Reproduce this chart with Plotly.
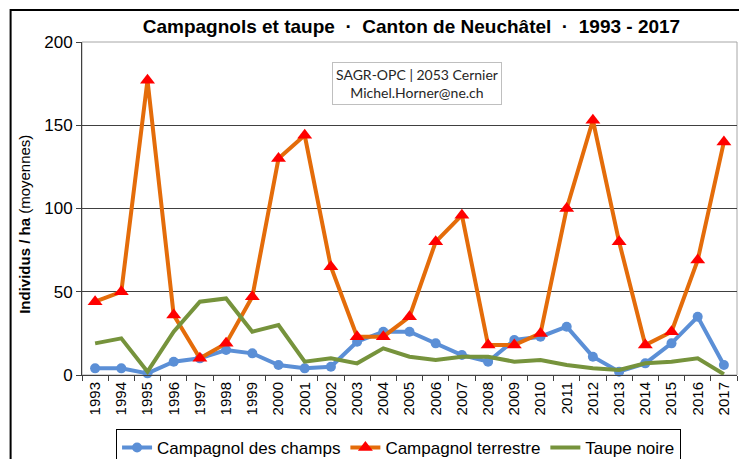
import plotly.graph_objects as go

years = [str(y) for y in range(1993, 2018)]

champs = [4, 4, 1, 8, 10, 15, 13, 6, 4, 5, 20, 26, 26, 19, 12, 8, 21, 23, 29, 11,
          2, 7, 19, 35, 6]
terrestre = [44, 50, 177, 36, 10, 19, 47, 130, 144, 65, 23, 23, 35, 80, 96, 18, 18,
             25, 100, 153, 80, 18, 26, 69, 140]
taupe = [19, 22, 2, 26, 44, 46, 26, 30, 8, 10, 7, 16, 11, 9, 11, 11, 8, 9, 6, 4,
         3, 7, 8, 10, 0.5]

y_ticks = [0, 50, 100, 150, 200]

fig = go.Figure()
fig.add_trace(go.Scatter(
    x=years, y=champs, name="Campagnol des champs", mode="lines+markers",
    line=dict(color="#5B8FD6", width=4),
    marker=dict(symbol="circle", size=10, color="#5B8FD6"),
    cliponaxis=False,
))
fig.add_trace(go.Scatter(
    x=years, y=terrestre, name="Campagnol terrestre", mode="lines+markers",
    line=dict(color="#E46C0A", width=4),
    marker=dict(symbol="triangle-up", size=13, color="#FF0000"),
    cliponaxis=False,
))
fig.add_trace(go.Scatter(
    x=years, y=taupe, name="Taupe noire", mode="lines",
    line=dict(color="#76933C", width=4),
    cliponaxis=False,
))

# plot area frame (grey on top and right) and the outer chart border
fig.add_shape(type="rect", xref="paper", yref="paper", x0=0, x1=1, y0=0, y1=1,
              line=dict(color="#A6A6A6", width=1), layer="below")
fig.add_shape(type="rect", xref="paper", yref="paper",
              x0=-0.109, x1=1.02, y0=-0.4, y1=1.096,
              line=dict(color="black", width=2))

fig.update_layout(
    width=739, height=459,
    margin=dict(l=82, r=2, t=42, b=84, autoexpand=False),
    paper_bgcolor="white", plot_bgcolor="white",
    font=dict(family="Liberation Sans, Arial", color="black"),
    title=dict(
        text="<b>Campagnols et taupe\u00a0\u00a0·\u00a0\u00a0Canton de Neuchâtel"
             "\u00a0\u00a0·\u00a0\u00a01993 - 2017</b>",
        x=0.503, xref="paper", xanchor="center",
        y=1 - 26 / 459, yanchor="middle",
        font=dict(size=19, color="black"),
    ),
    showlegend=True,
    legend=dict(
        orientation="h", x=0.052, xanchor="left", y=-0.162, yanchor="top",
        bordercolor="black", borderwidth=1, bgcolor="white",
        font=dict(size=17), itemwidth=30, tracegroupgap=0,
    ),
    xaxis=dict(
        type="category", showline=True, linecolor="#404040", linewidth=1,
        ticks="outside", tickson="boundaries", ticklen=5, tickcolor="#404040",
        tickangle=-90, tickfont=dict(size=15), showgrid=False,
        range=[-0.5, len(years) - 0.5],
    ),
    yaxis=dict(
        range=[0, 200], tickvals=y_ticks, showline=True, linecolor="#404040",
        linewidth=1, ticks="outside", ticklen=5, tickcolor="#404040",
        tickfont=dict(size=17), showgrid=True, gridcolor="#404040", gridwidth=1,
        zeroline=False,
    ),
    annotations=[
        dict(text="<b>Individus / ha</b> (moyennes)", textangle=-90,
             xref="paper", yref="paper", x=-0.089, y=0.453,
             xanchor="center", yanchor="middle", showarrow=False,
             font=dict(size=15)),
        dict(text="SAGR-OPC | 2053 Cernier<br>Michel.Horner@ne.ch",
             xref="paper", yref="paper", x=0.512, y=0.875,
             xanchor="center", yanchor="middle", showarrow=False,
             font=dict(family="Lato", size=14, color="#262626"),
             bordercolor="#BFBFBF", borderwidth=1, borderpad=3,
             bgcolor="white"),
    ],
)

fig.write_html("out.html", config={"displayModeBar": False},
               post_script="document.body.style.margin='0';")
